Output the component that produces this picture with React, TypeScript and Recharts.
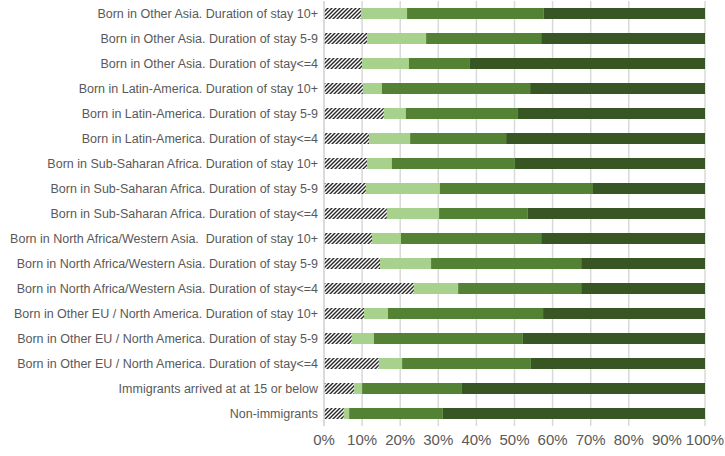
import { Bar, BarChart, CartesianGrid, XAxis, YAxis } from "recharts";

const categories = [
  "Born in Other Asia. Duration of stay 10+",
  "Born in Other Asia. Duration of stay 5-9",
  "Born in Other Asia. Duration of stay<=4",
  "Born in Latin-America. Duration of stay 10+",
  "Born in Latin-America. Duration of stay 5-9",
  "Born in Latin-America. Duration of stay<=4",
  "Born in Sub-Saharan Africa. Duration of stay 10+",
  "Born in Sub-Saharan Africa. Duration of stay 5-9",
  "Born in Sub-Saharan Africa. Duration of stay<=4",
  "Born in North Africa/Western Asia.  Duration of stay 10+",
  "Born in North Africa/Western Asia. Duration of stay 5-9",
  "Born in North Africa/Western Asia. Duration of stay<=4",
  "Born in Other EU / North America. Duration of stay 10+",
  "Born in Other EU / North America. Duration of stay 5-9",
  "Born in Other EU / North America. Duration of stay<=4",
  "Immigrants arrived at at 15 or below",
  "Non-immigrants",
];

// shares in % (hatched, light, medium, dark)
const hatched = [9.7, 11.3, 10.0, 10.2, 15.7, 11.8, 11.3, 11.0, 16.5, 12.6, 14.7, 23.6, 10.5, 7.3, 14.4, 7.9, 5.2];
const light = [12.1, 15.5, 12.3, 5.0, 5.8, 10.8, 6.5, 19.4, 13.7, 7.6, 13.4, 11.6, 6.3, 5.8, 6.1, 2.1, 1.4];
const medium = [35.9, 30.2, 16.0, 38.9, 29.4, 25.2, 32.3, 40.2, 23.3, 36.8, 39.4, 32.3, 40.7, 39.1, 33.8, 26.2, 24.6];
const dark = [42.3, 43.0, 61.7, 45.9, 49.1, 52.2, 49.9, 29.4, 46.5, 43.0, 32.5, 32.5, 42.5, 47.8, 45.7, 63.8, 68.8];

const xTicks = [0, 10, 20, 30, 40, 50, 60, 70, 80, 90, 100];

const data = categories.map((name, i) => ({
  name,
  hatched: hatched[i],
  light: light[i],
  medium: medium[i],
  dark: dark[i],
}));

const font = "'Liberation Sans', sans-serif";
const textColor = "#595959";

// plain text tick so long labels stay on one line
function CategoryTick(props: any) {
  const { x, y, payload } = props;
  return (
    <text
      x={x + 2}
      y={y}
      dy="0.36em"
      textAnchor="end"
      fill={textColor}
      fontSize={12.5}
      fontFamily={font}
      style={{ whiteSpace: "pre" }}
    >
      {payload.value}
    </text>
  );
}

export default function App() {
  return (
    <div style={{ position: "absolute", left: 0, top: 0, width: 725, height: 456, background: "#fff" }}>
      <BarChart
        width={725}
        height={456}
        data={data}
        layout="vertical"
        barSize={11}
        margin={{ top: 1, right: 20, left: 0, bottom: 0 }}
      >
        <defs>
          <pattern id="hatch" patternUnits="userSpaceOnUse" width="4" height="4">
            <rect width="4" height="4" fill="#fff" />
            <path d="M-1,1 l2,-2 M0,4 l4,-4 M3,5 l2,-2" stroke="#262626" strokeWidth={1.4} />
          </pattern>
        </defs>
        <CartesianGrid horizontal={false} stroke="#D9D9D9" strokeWidth={1.5} />
        <XAxis
          type="number"
          domain={[0, 100]}
          ticks={xTicks}
          tickFormatter={(v) => `${v}%`}
          axisLine={false}
          tickLine={false}
          height={30}
          tick={{ fill: textColor, fontSize: 15, fontFamily: font }}
        />
        <YAxis
          type="category"
          dataKey="name"
          width={324}
          axisLine={{ stroke: "#D9D9D9", strokeWidth: 1.5 }}
          tickLine={false}
          interval={0}
          tick={<CategoryTick />}
        />
        <Bar dataKey="hatched" stackId="a" fill="url(#hatch)" isAnimationActive={false} />
        <Bar dataKey="light" stackId="a" fill="#A9D18E" isAnimationActive={false} />
        <Bar dataKey="medium" stackId="a" fill="#548235" isAnimationActive={false} />
        <Bar dataKey="dark" stackId="a" fill="#375623" isAnimationActive={false} />
      </BarChart>
    </div>
  );
}
